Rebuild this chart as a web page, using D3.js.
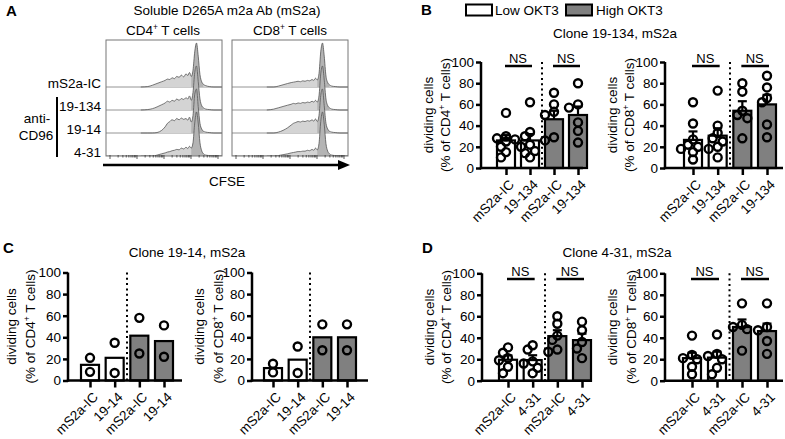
<!DOCTYPE html>
<html><head><meta charset="utf-8">
<script src="https://cdn.jsdelivr.net/npm/d3@7"></script>
<style>body{margin:0;background:#fff} svg{font-family:"Liberation Sans",Arial,sans-serif;display:block}</style>
</head><body><svg id="c" width="785" height="439"></svg>
<script>
// ---------- Panel A: CFSE histograms (x in % of decade range, y in % of max peak) ----------
const histX = [30, 36, 40, 44, 48, 51, 53, 55, 57, 59, 61, 63, 65, 67, 69, 70.5, 72, 73.5, 75, 76.5, 78, 79.5, 81, 82.5, 84, 86, 89, 93, 100];
const histCD4_IC    = [0, 1, 4, 8, 12, 15, 18, 17, 21, 19, 24, 22, 27, 23, 30, 26, 33, 24, 38, 80, 100, 70, 28, 12, 6, 3, 1, 0, 0];
const histCD4_19134 = [0, 1, 3, 7, 12, 16, 20, 18, 22, 20, 25, 22, 26, 24, 28, 25, 32, 22, 40, 85, 100, 65, 25, 10, 5, 2, 1, 0, 0];
const histCD4_1914  = [0, 0, 0, 1, 6, 14, 22, 26, 30, 28, 33, 30, 34, 31, 33, 29, 36, 25, 40, 88, 100, 60, 22, 9, 4, 2, 1, 0, 0];
const histCD4_431   = [0, 0, 0, 2, 5, 7, 9, 10, 12, 13, 15, 14, 18, 16, 20, 17, 22, 18, 30, 75, 100, 75, 30, 12, 5, 2, 1, 0, 0];
const histCD8_IC    = [0, 0, 2, 5, 8, 10, 11, 12, 13, 12, 14, 13, 15, 14, 17, 15, 20, 16, 30, 80, 100, 70, 25, 10, 5, 2, 1, 0, 0];
const histCD8_19134 = [0, 2, 5, 8, 11, 13, 15, 14, 16, 15, 17, 16, 18, 17, 20, 18, 22, 18, 32, 82, 100, 68, 25, 10, 5, 2, 1, 0, 0];
const histCD8_1914  = [0, 0, 2, 6, 12, 18, 22, 24, 26, 25, 27, 26, 28, 27, 30, 27, 32, 26, 40, 85, 100, 62, 22, 9, 4, 2, 1, 0, 0];
const histCD8_431   = [0, 0, 1, 3, 5, 7, 8, 9, 10, 10, 11, 11, 13, 12, 15, 13, 18, 14, 28, 78, 100, 72, 28, 11, 5, 2, 1, 0, 0];
const histRowLabels = ["mS2a-IC", "19-134", "19-14", "4-31"];

// ---------- Bar charts ----------
const okt3 = ["Low", "Low", "High", "High"];
const labels19134 = ["mS2a-IC", "19-134", "mS2a-IC", "19-134"];
const labels1914  = ["mS2a-IC", "19-14", "mS2a-IC", "19-14"];
const labels431   = ["mS2a-IC", "4-31", "mS2a-IC", "4-31"];
const yTicks = [0, 20, 40, 60, 80, 100];

const b4Mean = [26, 26, 46, 50];
const b4Sem  = [5, 6, 8, 8];
const b4Pts  = [[52, 30, 28, 27, 25, 20, 15, 10], [62, 34, 30, 22, 20, 16, 14, 10], [71, 60, 53, 50, 29, 26], [80, 60, 57, 43, 35, 24]];
const b8Mean = [26.5, 30.5, 54, 60];
const b8Sem  = [8, 7, 9, 9];
const b8Pts  = [[62, 42, 27, 22, 20, 18, 15, 8], [73, 40, 33, 28, 25, 20, 18, 10], [80, 72, 54, 50, 47, 28], [87, 76, 66, 62, 41, 29]];

const c4Mean = [14.5, 21, 41.5, 36.5];
const c4Pts  = [[21, 8], [35, 7], [58, 25], [51, 22]];
const c8Mean = [11.5, 19.3, 40, 40];
const c8Pts  = [[15.5, 7.5], [31.5, 7], [52, 28], [52, 28]];

const d4Mean = [19.5, 19.2, 41.5, 37.8];
const d4Sem  = [4, 4.5, 5.5, 6];
const d4Pts  = [[31, 26, 21, 19, 13, 7], [33, 29, 18, 16, 12, 7], [60, 53, 42, 38, 29, 27], [55, 47, 36, 30, 21]];
const d8Mean = [21, 21.5, 50, 46.2];
const d8Sem  = [5, 5.5, 7, 7];
const d8Pts  = [[42, 24, 21, 20, 13, 6], [43, 25, 23, 20, 12, 6], [72, 52, 50, 48, 28], [72, 50, 47, 37, 25]];

// ---------- drawing ----------
const svg = d3.select("#c");
const FONT = 13.5;

function txt(x, y, s, opts = {}) {
  const t = svg.append("text").attr("x", x).attr("y", y).attr("dy", "0.35em")
    .attr("font-size", opts.size || FONT).attr("text-anchor", opts.anchor || "middle")
    .attr("font-weight", opts.weight || "normal").attr("fill", "#000").text(s);
  return t;
}
function supText(g, x, y, parts, size, anchor, transform) {
  const t = g.append("text").attr("x", x).attr("y", y).attr("dy", "0.35em")
    .attr("font-size", size).attr("text-anchor", anchor || "middle");
  if (transform) t.attr("transform", transform);
  parts.forEach(p => {
    const ts = t.append("tspan").text(p.t);
    if (p.sup) ts.attr("baseline-shift", "super").attr("font-size", size * 0.62);
  });
  return t;
}

// Panel letters
txt(6, 11, "A", {size: 15, weight: "bold", anchor: "start"});
txt(421, 10, "B", {size: 15, weight: "bold", anchor: "start"});
txt(3, 248, "C", {size: 15, weight: "bold", anchor: "start"});
txt(422, 248, "D", {size: 15, weight: "bold", anchor: "start"});

// ----- Panel A -----
txt(227, 10, "Soluble D265A m2a Ab (mS2a)");
supText(svg, 163, 30, [{t: "CD4"}, {t: "+", sup: true}, {t: " T cells"}], FONT);
supText(svg, 290, 30, [{t: "CD8"}, {t: "+", sup: true}, {t: " T cells"}], FONT);

const baselines = [87, 110, 133, 156];
const boxes = [
  {x0: 106, x1: 222, data: [histCD4_IC, histCD4_19134, histCD4_1914, histCD4_431]},
  {x0: 232, x1: 348, data: [histCD8_IC, histCD8_19134, histCD8_1914, histCD8_431]}
];
boxes.forEach((b, bi) => {
  const hx = d3.scaleLinear([0, 100], [b.x0, b.x1]);
  const g = svg.append("g");
  const clipId = "clipbox" + bi;
  svg.append("clipPath").attr("id", clipId).append("rect")
    .attr("x", b.x0).attr("y", 38).attr("width", b.x1 - b.x0).attr("height", 118);
  const gc = g.append("g").attr("clip-path", `url(#${clipId})`);
  b.data.forEach((arr, ri) => {
    const base = baselines[ri];
    const hy = d3.scaleLinear([0, 100], [base, base - 44]);
    const pts = histX.map((x, i) => [x, arr[i]]);
    const area = d3.area().x(d => hx(d[0])).y0(base).y1(d => hy(d[1])).curve(d3.curveMonotoneX);
    const line = d3.line().x(d => hx(d[0])).y(d => hy(d[1])).curve(d3.curveMonotoneX);
    gc.append("line").attr("x1", b.x0).attr("x2", b.x1).attr("y1", base).attr("y2", base)
      .attr("stroke", "#888").attr("stroke-width", 0.9);
    gc.append("path").attr("d", area(pts)).attr("fill", "#d4d4d4");
    const peak = pts.filter(d => d[0] >= 73.5 && d[0] <= 84);
    gc.append("path").attr("d", area(peak)).attr("fill", "#b4b4b4");
    gc.append("path").attr("d", line(pts)).attr("fill", "none").attr("stroke", "#555").attr("stroke-width", 0.8);
  });
  g.append("rect").attr("x", b.x0).attr("y", 40).attr("width", b.x1 - b.x0).attr("height", 116)
    .attr("fill", "none").attr("stroke", "#777").attr("stroke-width", 1);
  const lx = d3.scaleLog([10, 1e5], [b.x0 + 4, b.x1 - 4]);
  const tks = lx.ticks();
  g.selectAll(".lt").data(tks).join("line")
    .attr("x1", d => lx(d)).attr("x2", d => lx(d)).attr("y1", 155)
    .attr("y2", d => Math.abs(Math.log10(d) - Math.round(Math.log10(d))) < 1e-6 ? 159 : 157.5)
    .attr("stroke", "#333").attr("stroke-width", 0.8);
});
histRowLabels.forEach((s, i) => txt(101, baselines[i] - 4, s, {anchor: "end"}));
svg.append("line").attr("x1", 57).attr("x2", 57).attr("y1", 97).attr("y2", 157).attr("stroke", "#000").attr("stroke-width", 2);
txt(37, 118, "anti-");
txt(36, 135, "CD96");
svg.append("line").attr("x1", 103).attr("x2", 340).attr("y1", 165).attr("y2", 165).attr("stroke", "#000").attr("stroke-width", 2.5);
svg.append("path").attr("d", "M338,160 L350,165 L338,170 Z").attr("fill", "#000");
txt(227, 181, "CFSE");

// ----- Legend B -----
svg.append("rect").attr("x", 466).attr("y", 4.5).attr("width", 26).attr("height", 11).attr("fill", "#fff").attr("stroke", "#000").attr("stroke-width", 2);
txt(495, 10, "Low OKT3", {anchor: "start"});
svg.append("rect").attr("x", 566).attr("y", 4.5).attr("width", 26).attr("height", 11).attr("fill", "#808080").attr("stroke", "#000").attr("stroke-width", 2);
txt(596, 10, "High OKT3", {anchor: "start"});

txt(615, 33, "Clone 19-134, mS2a");
txt(187, 252, "Clone 19-14, mS2a");
txt(617, 252, "Clone 4-31, mS2a");

function dodge(vals, ysc, cx) {
  const order = vals.map((v, i) => i).sort((a, b) => vals[b] - vals[a]);
  const placed = [];
  const offs = [0, -5, 5, -9, 9, -12, 12];
  order.forEach(i => {
    const py = ysc(vals[i]);
    let chosen = cx;
    for (const o of offs) {
      const px = cx + o;
      if (placed.every(p => Math.hypot(p.x - px, p.y - py) >= 6.5)) { chosen = px; break; }
    }
    placed.push({x: chosen, y: py});
  });
  return placed;
}

function barChart(cfg) {
  const g = svg.append("g");
  const y = d3.scaleLinear([0, 100], [cfg.y0, cfg.y100]);
  const x = d3.scalePoint(d3.range(4), [cfg.t0, cfg.t3]);
  const bw = 18;
  const sepX = (x(1) + x(2)) / 2;
  g.append("line").attr("x1", sepX).attr("x2", sepX).attr("y1", cfg.y100).attr("y2", cfg.y0)
    .attr("stroke", "#000").attr("stroke-width", 2).attr("stroke-dasharray", "2,3.3");
  g.selectAll(".bar").data(cfg.mean).join("rect")
    .attr("x", (d, i) => x(i) - bw / 2).attr("width", bw)
    .attr("y", d => y(d)).attr("height", d => cfg.y0 - y(d))
    .attr("fill", (d, i) => okt3[i] === "High" ? "#808080" : "#fff")
    .attr("stroke", "#000").attr("stroke-width", 2.2);
  if (cfg.sem) {
    cfg.mean.forEach((m, i) => {
      const top = y(m + cfg.sem[i]);
      g.append("line").attr("x1", x(i)).attr("x2", x(i)).attr("y1", y(m)).attr("y2", top).attr("stroke", "#000").attr("stroke-width", 2.2);
      g.append("line").attr("x1", x(i) - 4.5).attr("x2", x(i) + 4.5).attr("y1", top).attr("y2", top).attr("stroke", "#000").attr("stroke-width", 2.2);
    });
  }
  cfg.pts.forEach((arr, i) => {
    const pp = dodge(arr, y, x(i));
    g.selectAll(null).data(pp).join("circle")
      .attr("cx", d => d.x).attr("cy", d => d.y).attr("r", 4)
      .attr("fill", "none").attr("stroke", "#000").attr("stroke-width", 2.4);
  });
  const ya = g.append("g").attr("transform", `translate(${cfg.ax},0)`)
    .call(d3.axisLeft(y).tickValues(yTicks).tickSize(5).tickSizeOuter(0).tickPadding(2));
  ya.select(".domain").attr("stroke-width", 2.5).attr("d", `M0,${cfg.y0 + 1.2}V${cfg.y100}`);
  ya.selectAll(".tick line").attr("stroke-width", 2.5);
  ya.selectAll(".tick text").attr("font-size", FONT).attr("font-family", "Liberation Sans, Arial, sans-serif").attr("fill", "#000");
  g.append("line").attr("x1", cfg.ax - 1.2).attr("x2", cfg.xEnd).attr("y1", cfg.y0).attr("y2", cfg.y0)
    .attr("stroke", "#000").attr("stroke-width", 2.5);
  const xa = g.append("g").attr("transform", `translate(0,${cfg.y0})`)
    .call(d3.axisBottom(x).tickSize(7).tickSizeOuter(0).tickFormat(i => cfg.labels[i]));
  xa.select(".domain").remove();
  xa.selectAll(".tick line").attr("stroke-width", 2.5);
  xa.selectAll(".tick text").attr("font-size", FONT).attr("font-family", "Liberation Sans, Arial, sans-serif")
    .attr("fill", "#000").attr("text-anchor", "end").attr("y", null).attr("dy", "0.35em")
    .attr("transform", "translate(5,14) rotate(-45)");
  if (cfg.ns) {
    [[0, 1], [2, 3]].forEach(([a, b]) => {
      g.append("line").attr("x1", x(a) - 1).attr("x2", x(b) + 2).attr("y1", cfg.nsY).attr("y2", cfg.nsY)
        .attr("stroke", "#000").attr("stroke-width", 2.5);
      g.append("text").attr("x", (x(a) + x(b)) / 2).attr("y", cfg.nsY - 8).attr("dy", "0.35em")
        .attr("text-anchor", "middle").attr("font-size", 13).text("NS");
    });
  }
  const cy = (cfg.y0 + cfg.y100) / 2;
  const l1 = cfg.ax - cfg.lo1, l2 = cfg.ax - cfg.lo2;
  g.append("text").attr("transform", `translate(${l1},${cy}) rotate(-90)`).attr("dy", "0.35em")
    .attr("text-anchor", "middle").attr("font-size", FONT).text("dividing cells");
  supText(g, 0, 0, [{t: "(% of " + cfg.cell}, {t: "+", sup: true}, {t: " T cells)"}], FONT, "middle",
    `translate(${l2},${cy}) rotate(-90)`);
}

barChart({ax: 481, xEnd: 583, y0: 168, y100: 62, t0: 506, t3: 578, mean: b4Mean, sem: b4Sem, pts: b4Pts, labels: labels19134, ns: true, nsY: 66, cell: "CD4", lo1: 53, lo2: 36});
barChart({ax: 665, xEnd: 783, y0: 168, y100: 62, t0: 693, t3: 767, mean: b8Mean, sem: b8Sem, pts: b8Pts, labels: labels19134, ns: true, nsY: 66, cell: "CD8", lo1: 53, lo2: 36});
barChart({ax: 68, xEnd: 182, y0: 380.5, y100: 272.5, t0: 90, t3: 164, mean: c4Mean, sem: null, pts: c4Pts, labels: labels1914, ns: false, cell: "CD4", lo1: 57, lo2: 38});
barChart({ax: 252, xEnd: 368, y0: 380.5, y100: 272.5, t0: 273, t3: 347, mean: c8Mean, sem: null, pts: c8Pts, labels: labels1914, ns: false, cell: "CD8", lo1: 53, lo2: 34});
barChart({ax: 482, xEnd: 592, y0: 380.7, y100: 273.3, t0: 508, t3: 582, mean: d4Mean, sem: d4Sem, pts: d4Pts, labels: labels431, ns: true, nsY: 279, cell: "CD4", lo1: 53, lo2: 36});
barChart({ax: 665, xEnd: 783, y0: 380.7, y100: 273.3, t0: 692, t3: 767, mean: d8Mean, sem: d8Sem, pts: d8Pts, labels: labels431, ns: true, nsY: 279, cell: "CD8", lo1: 53, lo2: 34});
</script>
</body></html>
